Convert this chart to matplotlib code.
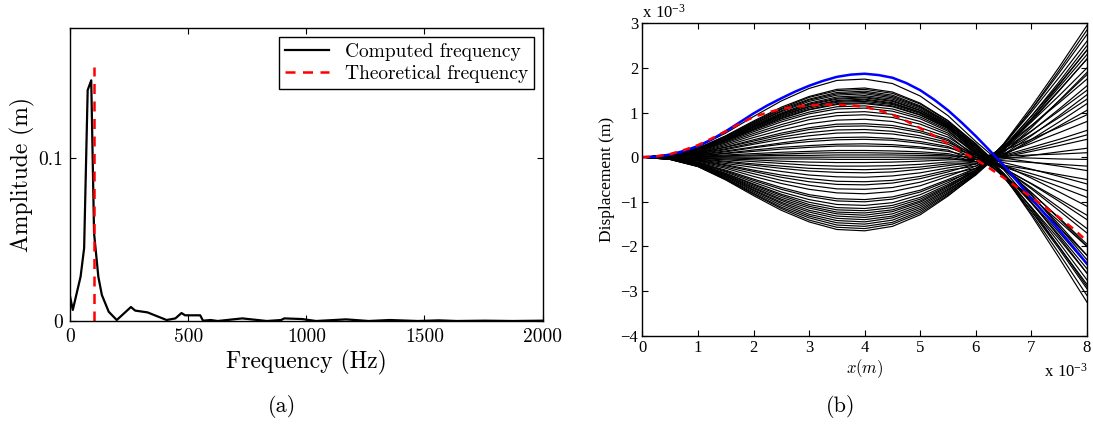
import matplotlib
matplotlib.use("Agg")
from matplotlib import pyplot as plt

# ---- (a) spectrum ----
freq = [0, 12, 45, 60, 75, 90, 102, 120, 135, 164, 198, 258, 276, 328, 409, 446, 472, 487,
        551, 563, 595, 625, 729, 833, 893, 907, 982, 1041, 1168, 1264, 1353, 1472, 1561,
        1636, 1755, 1874, 2000]
amp = [0.0154, 0.0068, 0.0273, 0.0448, 0.142, 0.148, 0.054, 0.0273, 0.016, 0.0057, 0.0006,
       0.0086, 0.0064, 0.0053, 0.0006, 0.0016, 0.0049, 0.0035, 0.0035, 0.0002, 0.0006, 0.0,
       0.0016, 0.0, 0.0006, 0.0016, 0.0012, 0.0, 0.001, 0.0, 0.0006, 0.0, 0.0004, 0.0,
       0.0002, 0.0, 0.0002]
theo_freq = [100, 100]
theo_amp = [0, 0.156]

# ---- (b) displacement shapes, values in units of 1e-3 ----
x_pos = [0, 0.5, 1, 1.5, 2, 2.5, 3, 3.5, 4, 4.5, 5, 5.5, 6, 6.5, 7, 7.5, 8]
x_fine = [0, .25, .5, .75, 1, 1.25, 1.5, 1.75, 2, 2.25, 2.5, 2.75, 3, 3.25, 3.5, 3.75, 4,
          4.25, 4.5, 4.75, 5, 5.25, 5.5, 5.75, 6, 6.25, 6.5, 6.75, 7, 7.25, 7.5, 7.75, 8]
blue_curve = [0, .01, .06, .14, .25, .40, .58, .78, .98, 1.16, 1.32, 1.47, 1.60, 1.71, 1.80,
              1.85, 1.87, 1.84, 1.78, 1.66, 1.50, 1.29, 1.05, .77, .47, .15, -.18, -.55,
              -.93, -1.28, -1.63, -2.01, -2.39]
red_curve = [0, .02, .07, .16, .27, .42, .58, .75, .90, 1.00, 1.08, 1.13, 1.16, 1.18, 1.18,
             1.16, 1.13, 1.05, .95, .81, .65, .48, .30, .12, -.05, -.25, -.46, -.68, -.90,
             -1.12, -1.35, -1.60, -1.88]

upper_curves = [
    [0, .05, .23, .54, .91, 1.26, 1.54, 1.72, 1.75, 1.65, 1.37, .93, .35, -.18, -.84, -1.56, -2.3],
    [0, .05, .20, .48, .81, 1.12, 1.36, 1.52, 1.55, 1.46, 1.21, .82, .30, -.41, -1.30, -2.26, -3.25],
    [0, .05, .20, .47, .79, 1.09, 1.34, 1.49, 1.52, 1.43, 1.19, .81, .28, -.36, -1.15, -2.01, -2.9],
    [0, .04, .19, .46, .77, 1.07, 1.30, 1.45, 1.48, 1.39, 1.15, .78, .25, -.42, -1.26, -2.16, -3.1],
    [0, .04, .19, .45, .75, 1.04, 1.28, 1.42, 1.45, 1.36, 1.13, .77, .30, -.28, -1.01, -1.79, -2.6],
    [0, .04, .18, .44, .74, 1.02, 1.25, 1.39, 1.42, 1.33, 1.11, .75, .22, -.41, -1.21, -2.06, -2.95],
    [0, .04, .18, .43, .72, .99, 1.21, 1.35, 1.38, 1.30, 1.08, .73, .20, -.39, -1.13, -1.92, -2.75],
    [0, .04, .18, .42, .70, .97, 1.19, 1.32, 1.35, 1.27, 1.05, .72, .25, -.24, -.85, -1.51, -2.2],
    [0, .04, .17, .41, .69, .96, 1.17, 1.30, 1.33, 1.25, 1.04, .70, .18, -.36, -1.03, -1.75, -2.5],
    [0, .04, .17, .40, .68, .94, 1.14, 1.27, 1.30, 1.22, 1.01, .69, .15, -.45, -1.20, -2.01, -2.85],
    [0, .04, .17, .40, .67, .92, 1.13, 1.25, 1.28, 1.20, 1.00, .68, .20, -.24, -.79, -1.38, -2.0],
    [0, .04, .16, .39, .65, .90, 1.10, 1.23, 1.25, 1.18, .98, .66, .12, -.38, -1.01, -1.69, -2.4],
    [0, .04, .16, .38, .63, .88, 1.07, 1.20, 1.22, 1.15, .95, .65, .10, -.44, -1.12, -1.84, -2.6],
    [0, .04, .16, .37, .62, .86, 1.06, 1.18, 1.20, 1.13, .94, .64, .15, -.27, -.80, -1.36, -1.95],
    [0, .03, .15, .36, .60, .83, 1.01, 1.13, 1.15, 1.08, .90, .61, .05, -.40, -.96, -1.57, -2.2],
    [0, .03, .14, .34, .57, .79, .97, 1.08, 1.10, 1.03, .86, .58, .10, -.26, -.71, -1.20, -1.7],
    [0, .03, .13, .32, .53, .73, .90, 1.00, 1.02, .96, .80, .54, .08, -.26, -.68, -1.13, -1.6],
    [0, .03, .12, .29, .49, .68, .84, .93, .95, .89, .74, .50, 0, -.40, -.90, -1.44, -2.0],
    [0, .03, .11, .26, .44, .61, .75, .83, .85, .80, .66, .45, .05, -.24, -.60, -.99, -1.4],
    [0, .02, .10, .23, .39, .54, .66, .74, .75, .71, .59, .40, 0, -.26, -.59, -.94, -1.3],
    [0, .02, .09, .22, .36, .50, .62, .69, .70, .66, .55, .37, -.05, -.22, -.43, -.66, -.9],
    [0, .02, .08, .19, .32, .45, .55, .61, .62, .58, .48, .33, .05, -.18, -.47, -.78, -1.1],
    [0, .02, .07, .17, .29, .40, .48, .54, .55, .52, .43, .29, 0, -.12, -.27, -.43, -.6],
    [0, .01, .06, .14, .23, .32, .40, .44, .45, .42, .35, .24, -.05, -.19, -.37, -.55, -.75],
    [0, .01, .05, .12, .21, .29, .35, .39, .40, .38, .31, .21, .05, -.02, -.11, -.20, -.3],
    [0, .01, .04, .09, .16, .22, .26, .29, .30, .28, .23, .16, -.1, -.18, -.28, -.39, -.5],
    [0, .01, .03, .08, .13, .18, .22, .25, .25, .24, .20, .13, 0, .02, .05, .07, .1],
    [0, 0, .02, .05, .08, .11, .13, .15, .15, .14, .12, .08, -.05, -.08, -.12, -.16, -.2],
    [0, 0, .01, .03, .05, .07, .09, .10, .10, .09, .08, .05, -.1, 0, .13, .26, .4],
    [0, 0, .01, .02, .03, .04, .04, .05, .05, .05, .04, .03, 0, -.01, -.02, -.04, -.05],
    [0, 0, 0, 0, 0, 0, 0, 0, 0, 0, 0, 0, -.1, .04, .22, .40, .6],
]
lower_curves = [
    [0, 0, -.01, -.02, -.03, -.04, -.04, -.05, -.05, -.05, -.04, -.03, -.1, -.04, .04, .12, .2],
    [0, 0, -.02, -.04, -.06, -.09, -.11, -.12, -.12, -.11, -.09, -.06, -.05, .15, .40, .67, .95],
    [0, -.01, -.03, -.06, -.10, -.14, -.18, -.20, -.20, -.19, -.16, -.11, -.1, .02, .17, .33, .5],
    [0, -.01, -.04, -.09, -.15, -.20, -.25, -.27, -.28, -.26, -.22, -.15, -.15, .14, .50, .89, 1.3],
    [0, -.01, -.05, -.11, -.18, -.25, -.31, -.34, -.35, -.33, -.27, -.19, -.1, .08, .31, .55, .8],
    [0, -.01, -.06, -.14, -.23, -.32, -.40, -.44, -.45, -.42, -.35, -.24, -.15, .18, .59, 1.04, 1.5],
    [0, -.02, -.07, -.17, -.29, -.40, -.48, -.54, -.55, -.52, -.43, -.29, -.2, .05, .36, .70, 1.05],
    [0, -.02, -.08, -.19, -.32, -.45, -.55, -.61, -.62, -.58, -.48, -.33, -.15, .23, .71, 1.22, 1.75],
    [0, -.02, -.09, -.22, -.37, -.52, -.63, -.71, -.72, -.68, -.56, -.38, -.25, .04, .40, .79, 1.2],
    [0, -.02, -.11, -.25, -.43, -.59, -.72, -.80, -.82, -.77, -.64, -.43, -.2, .24, .79, 1.38, 2.0],
    [0, -.03, -.12, -.29, -.49, -.68, -.84, -.93, -.95, -.89, -.74, -.50, -.25, .12, .58, 1.08, 1.6],
    [0, -.03, -.13, -.31, -.52, -.72, -.88, -.98, -1.0, -.94, -.78, -.53, -.3, .20, .83, 1.50, 2.2],
    [0, -.03, -.14, -.33, -.56, -.78, -.95, -1.06, -1.08, -1.02, -.84, -.57, -.25, .17, .70, 1.26, 1.85],
    [0, -.03, -.15, -.36, -.60, -.83, -1.01, -1.13, -1.15, -1.08, -.90, -.61, -.3, .24, .92, 1.64, 2.4],
    [0, -.04, -.16, -.37, -.62, -.86, -1.06, -1.18, -1.20, -1.13, -.94, -.64, -.28, .06, .48, .93, 1.4],
    [0, -.04, -.16, -.39, -.65, -.90, -1.10, -1.23, -1.25, -1.18, -.98, -.66, -.32, .20, .86, 1.57, 2.3],
    [0, -.04, -.17, -.40, -.68, -.94, -1.14, -1.27, -1.30, -1.22, -1.01, -.69, -.3, .28, 1.01, 1.79, 2.6],
    [0, -.04, -.18, -.42, -.70, -.97, -1.19, -1.32, -1.35, -1.27, -1.05, -.72, -.35, .10, .66, 1.27, 1.9],
    [0, -.04, -.18, -.43, -.73, -1.01, -1.23, -1.37, -1.40, -1.32, -1.09, -.74, -.33, .29, 1.06, 1.89, 2.75],
    [0, -.04, -.19, -.45, -.75, -1.04, -1.28, -1.42, -1.45, -1.36, -1.13, -.77, -.35, .16, .80, 1.49, 2.2],
    [0, -.05, -.20, -.47, -.78, -1.08, -1.32, -1.47, -1.50, -1.41, -1.17, -.80, -.38, .20, .92, 1.69, 2.5],
    [0, -.05, -.20, -.48, -.81, -1.12, -1.36, -1.52, -1.55, -1.46, -1.21, -.82, -.36, .30, 1.13, 2.02, 2.95],
    [0, -.05, -.21, -.50, -.83, -1.15, -1.41, -1.57, -1.60, -1.50, -1.25, -.85, -.40, .16, .86, 1.62, 2.4],
    [0, -.05, -.21, -.51, -.86, -1.19, -1.45, -1.62, -1.65, -1.55, -1.29, -.87, -.38, .27, 1.07, 1.95, 2.85],
]

plt.rcParams['mathtext.fontset'] = 'cm'
plt.rcParams['axes.unicode_minus'] = True

fig = plt.figure(figsize=(10.93, 4.25), dpi=100)

# ---------- left panel ----------
cm = 'cmr10'
ax1 = fig.add_axes([0.0640, 0.2447, 0.4325, 0.6887])
ax1.plot(freq, amp, color='black', lw=1.6, label='Computed frequency')
ax1.plot(theo_freq, theo_amp, '--', color='red', lw=1.8, dashes=(4, 3), label='Theoretical frequency')
ax1.set_xlim(0, 2000)
ax1.set_ylim(0, 0.18)
ax1.set_xticks([0, 500, 1000, 1500, 2000])
ax1.set_xticklabels(['0', '500', '1000', '1500', '2000'], family=cm, fontsize=14)
ax1.set_yticks([0, 0.1])
ax1.set_yticklabels(['0', '0.1'], family=cm, fontsize=14)
ax1.tick_params(direction='in', top=True, right=True, length=4, width=0.8, pad=5)
ax1.set_xlabel('Frequency (Hz)', family=cm, fontsize=17, labelpad=3)
ax1.set_ylabel('Amplitude (m)', family=cm, fontsize=17, labelpad=2)
leg = ax1.legend(loc='upper right', prop={'family': cm, 'size': 14}, fancybox=False,
                 edgecolor='black', framealpha=1, handlelength=2.3, borderaxespad=0.45,
                 borderpad=0.3, labelspacing=0.2)
leg.get_frame().set_linewidth(1.0)
for s in ax1.spines.values():
    s.set_linewidth(1.0)
fig.text(282 / 1093, 1 - 407 / 425, '(a)', family=cm, fontsize=16, ha='center', va='center')

# ---------- right panel ----------
tf = 'Liberation Serif'
ax2 = fig.add_axes([0.5877, 0.2101, 0.4068, 0.7351])
for c in upper_curves + lower_curves:
    ax2.plot(x_pos, c, color='black', lw=0.85)
ax2.plot(x_fine, blue_curve, color='blue', lw=1.8)
ax2.plot(x_fine, red_curve, '--', color='red', lw=1.8, dashes=(3, 2.5))
ax2.set_xlim(0, 8)
ax2.set_ylim(-4, 3)
ax2.set_xticks(range(0, 9))
ax2.set_xticklabels([str(v) for v in range(0, 9)], family=tf, fontsize=12)
ax2.set_yticks(range(-4, 4))
ax2.set_yticklabels([str(v).replace('-', '\u2212') for v in range(-4, 4)], family=tf, fontsize=12)
ax2.tick_params(direction='in', top=True, right=True, length=4, width=0.8, pad=3)
ax2.set_xlabel('$x(m)$', fontsize=12, labelpad=1)
ax2.set_ylabel('Displacement (m)', family=tf, fontsize=12.5, labelpad=4)
for s in ax2.spines.values():
    s.set_linewidth(1.0)
fig.text(642 / 1093, 1 - 18 / 425, r'$\mathregular{x\ 10^{-3}}$', family=tf, fontsize=12,
         ha='left', va='baseline')
fig.text(1088 / 1093, 1 - 377 / 425, r'$\mathregular{x\ 10^{-3}}$', family=tf, fontsize=12,
         ha='right', va='baseline')
fig.text(841 / 1093, 1 - 407 / 425, '(b)', family=cm, fontsize=16, ha='center', va='center')

fig.savefig('out.png', dpi=100)
